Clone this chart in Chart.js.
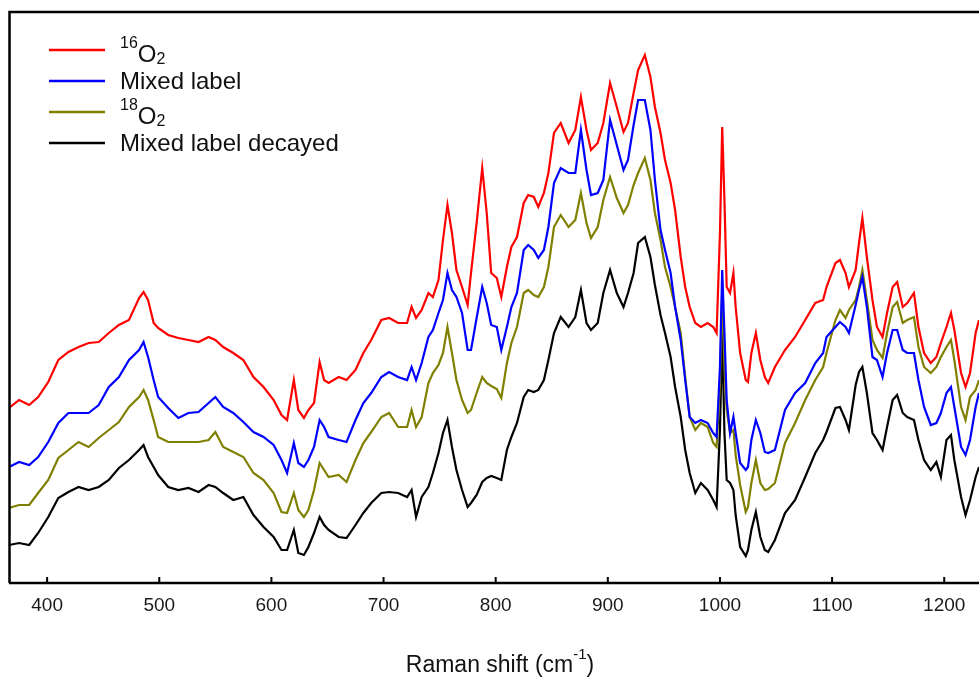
<!DOCTYPE html>
<html>
<head>
<meta charset="utf-8">
<script src="https://cdn.jsdelivr.net/npm/chart.js@4.4.1/dist/chart.umd.min.js"></script>
<style>
  html, body { margin: 0; padding: 0; background: #fff; }
</style>
</head>
<body>
<canvas id="ramanChart" width="979" height="680"></canvas>
<script>
// Raman shift (cm-1), shared by all four spectra
const wavenumbers = [366, 375, 384, 392, 401, 410, 419, 428, 437, 446,
    455, 464, 473, 482, 486, 490, 495, 499, 508, 517,
    526, 535, 544, 550, 557, 566, 575, 584, 593, 602,
    609, 614, 620, 624, 629, 633, 638, 643, 647, 651,
    660, 667, 675, 682, 689, 698, 705, 713, 721, 725,
    729, 734, 740, 744, 749, 753, 757, 761, 765, 770,
    775, 778, 783, 788, 792, 796, 801, 805, 810, 814,
    819, 825, 829, 834, 838, 843, 847, 852, 858, 865,
    871, 876, 881, 885, 891, 896, 902, 908, 914, 918,
    923, 927, 933, 938, 942, 947, 951, 956, 960, 965,
    969, 973, 978, 983, 989, 994, 997, 1000, 1002, 1004,
    1006, 1009, 1012, 1014, 1018, 1023, 1025, 1028, 1032, 1036,
    1040, 1043, 1049, 1058, 1067, 1076, 1085, 1092, 1095, 1103,
    1107, 1112, 1115, 1121, 1124, 1127, 1131, 1136, 1140, 1145,
    1149, 1154, 1158, 1163, 1167, 1173, 1177, 1182, 1188, 1193,
    1197, 1202, 1206, 1209, 1215, 1219, 1223, 1228, 1231];

// intensities (a.u., stacked with offsets as in the figure)
const o16 = [192, 200, 195, 203, 218, 240, 248, 253, 257, 258,
    267, 275, 280, 302, 308, 300, 277, 272, 265, 262,
    260, 258, 263, 260, 253, 247, 240, 223, 213, 200,
    185, 180, 220, 190, 182, 190, 197, 238, 220, 217,
    223, 220, 230, 247, 260, 280, 282, 277, 277, 293,
    282, 290, 307, 303, 320, 360, 395, 367, 330, 313,
    295, 327, 377, 432, 387, 327, 322, 303, 333, 353,
    363, 397, 405, 403, 393, 407, 427, 467, 477, 457,
    470, 503, 470, 450, 457, 477, 517, 493, 468, 477,
    507, 530, 545, 523, 493, 467, 440, 417, 390, 343,
    313, 293, 277, 273, 277, 273, 267, 367, 473, 400,
    313, 307, 327, 293, 247, 220, 218, 247, 267, 240,
    223, 217, 233, 250, 263, 280, 297, 300, 313, 337,
    340, 327, 313, 330, 357, 382, 343, 300, 273, 263,
    287, 313, 318, 293, 297, 307, 273, 247, 237, 243,
    257, 273, 287, 270, 227, 213, 227, 267, 280];

const mixed = [133, 138, 135, 143, 158, 177, 187, 187, 187, 195,
    213, 223, 240, 250, 258, 243, 220, 203, 192, 182,
    187, 188, 197, 203, 193, 187, 178, 168, 163, 155,
    140, 127, 157, 137, 133, 140, 153, 180, 173, 163,
    160, 158, 180, 197, 207, 223, 228, 223, 220, 233,
    220, 237, 263, 270, 287, 300, 327, 310, 303, 287,
    250, 250, 282, 313, 297, 275, 273, 250, 273, 293,
    307, 350, 355, 350, 342, 350, 373, 417, 432, 427,
    427, 470, 430, 405, 407, 420, 480, 455, 430, 440,
    475, 500, 500, 470, 420, 370, 350, 327, 293, 260,
    220, 183, 177, 180, 177, 167, 163, 233, 330, 267,
    200, 167, 183, 167, 137, 130, 133, 160, 180, 167,
    148, 147, 150, 190, 207, 217, 237, 247, 263, 273,
    278, 273, 267, 295, 310, 323, 293, 243, 240, 223,
    247, 270, 270, 250, 247, 247, 220, 193, 175, 177,
    187, 207, 213, 193, 153, 145, 160, 193, 207];

const o18 = [92, 95, 95, 107, 120, 142, 150, 158, 153, 162,
    170, 178, 193, 203, 210, 200, 180, 163, 158, 158,
    158, 158, 160, 168, 153, 148, 143, 127, 120, 107,
    88, 87, 107, 90, 83, 90, 110, 137, 130, 123,
    125, 118, 140, 157, 168, 183, 187, 173, 173, 190,
    173, 183, 217, 227, 235, 247, 273, 247, 220, 200,
    187, 190, 207, 223, 217, 214, 211, 202, 237, 257,
    273, 307, 310, 305, 303, 313, 333, 373, 385, 373,
    380, 407, 377, 362, 373, 400, 423, 402, 387, 395,
    415, 427, 442, 420, 387, 360, 333, 313, 293, 267,
    223, 183, 170, 177, 173, 157, 153, 217, 310, 233,
    190, 167, 170, 145, 115, 88, 93, 117, 140, 117,
    110, 111, 117, 157, 177, 200, 220, 233, 247, 280,
    290, 282, 290, 300, 313, 330, 300, 260, 250, 242,
    267, 293, 298, 277, 280, 283, 253, 233, 227, 233,
    243, 253, 260, 240, 193, 180, 203, 210, 220];

const mixedDecayed = [55, 57, 55, 67, 83, 102, 108, 113, 110, 113,
    120, 132, 140, 150, 155, 143, 133, 125, 113, 110,
    112, 108, 115, 113, 107, 100, 103, 85, 73, 63,
    50, 50, 70, 47, 45, 53, 67, 83, 75, 70,
    63, 62, 75, 87, 97, 107, 108, 107, 103, 110,
    83, 103, 113, 127, 147, 167, 180, 153, 130, 110,
    93, 97, 105, 118, 122, 124, 122, 120, 150, 163,
    177, 203, 210, 208, 210, 220, 240, 267, 283, 273,
    283, 310, 277, 270, 277, 307, 330, 307, 293, 307,
    327, 357, 363, 343, 315, 285, 267, 243, 213, 183,
    150, 127, 107, 117, 110, 100, 93, 170, 267, 167,
    120, 117, 110, 85, 53, 44, 50, 70, 88, 63,
    50, 48, 60, 87, 100, 123, 147, 160, 168, 192,
    193, 180, 170, 215, 228, 233, 207, 167, 160, 150,
    173, 200, 205, 187, 183, 180, 160, 140, 130, 138,
    123, 160, 165, 140, 103, 85, 100, 123, 133];

const xTicks = [400, 500, 600, 700, 800, 900, 1000, 1100, 1200];

// legend labels: [text, 'sup' | 'sub' | '']
const labelO16 = [['16', 'sup'], ['O', ''], ['2', 'sub']];
const labelMixed = [['Mixed label', '']];
const labelO18 = [['18', 'sup'], ['O', ''], ['2', 'sub']];
const labelDecayed = [['Mixed label decayed', '']];

const colors = ['#ff0000', '#0000ff', '#808000', '#000000'];
const labels = [labelO16, labelMixed, labelO18, labelDecayed];
const series = [o16, mixed, o18, mixedDecayed];

const FONT = "'Liberation Sans', Arial, Helvetica, sans-serif";
const AXIS_BOTTOM = 583;

function toPoints(values) {
    return values.map((v, i) => ({ x: wavenumbers[i], y: v }));
}

// draws text pieces with superscripts / subscripts, returns end x
function drawRich(ctx, parts, x, baseline, size) {
    const small = Math.round(size * 0.66);
    parts.forEach(([text, kind]) => {
        let y = baseline;
        if (kind === 'sup') { ctx.font = small + 'px ' + FONT; y = baseline - size * 0.58; }
        else if (kind === 'sub') { ctx.font = small + 'px ' + FONT; y = baseline + 2; }
        else ctx.font = size + 'px ' + FONT;
        ctx.fillText(text, x, y);
        x += ctx.measureText(text).width;
    });
    return x;
}

function richWidth(ctx, parts, size) {
    const small = Math.round(size * 0.66);
    let w = 0;
    parts.forEach(([text, kind]) => {
        ctx.font = (kind ? small : size) + 'px ' + FONT;
        w += ctx.measureText(text).width;
    });
    return w;
}

const framePlugin = {
    id: 'frame',
    afterDraw(chart) {
        const ctx = chart.ctx;
        const area = chart.chartArea;
        const xs = chart.scales.x;
        ctx.save();
        ctx.strokeStyle = '#000';
        ctx.lineWidth = 2.5;
        ctx.beginPath();
        ctx.moveTo(area.left + 0.5, area.bottom);
        ctx.lineTo(area.left + 0.5, area.top);
        ctx.lineTo(area.right, area.top);
        ctx.moveTo(area.left, area.bottom);
        ctx.lineTo(area.right, area.bottom);
        ctx.stroke();
        // inward ticks
        ctx.lineWidth = 2;
        ctx.beginPath();
        xTicks.forEach(v => {
            const px = xs.getPixelForValue(v);
            ctx.moveTo(px, area.bottom);
            ctx.lineTo(px, area.bottom - 6);
        });
        ctx.stroke();

        // axis title with superscript
        ctx.fillStyle = '#111';
        ctx.textBaseline = 'alphabetic';
        const title = [['Raman shift (cm', ''], ['-1', 'sup'], [')', '']];
        const tw = richWidth(ctx, title, 23);
        drawRich(ctx, title, 500 - tw / 2, 672, 23);

        // legend
        labels.forEach((parts, i) => {
            const ly = 50 + i * 31;
            ctx.strokeStyle = colors[i];
            ctx.lineWidth = 2.5;
            ctx.beginPath();
            ctx.moveTo(49, ly);
            ctx.lineTo(105, ly);
            ctx.stroke();
            ctx.fillStyle = '#111';
            const scripted = parts.some(p => p[1]);
            drawRich(ctx, parts, 120, ly + (scripted ? 12 : 8), 24);
        });
        ctx.restore();
    }
};

const ctx = document.getElementById('ramanChart').getContext('2d');
const ramanChart = new Chart(ctx, {
    type: 'line',
    data: {
        datasets: series.map((values, i) => ({
            label: labels[i].map(p => p[0]).join(''),
            data: toPoints(values),
            borderColor: colors[i],
            borderWidth: 2.2,
            pointRadius: 0,
            tension: 0,
            fill: false
        }))
    },
    options: {
        responsive: false,
        animation: false,
        devicePixelRatio: 1,
        layout: { padding: { left: 9, top: 12, right: 0, bottom: 0 } },
        plugins: {
            legend: { display: false },
            tooltip: { enabled: false }
        },
        scales: {
            x: {
                type: 'linear',
                min: 366,
                max: 1231,
                grid: { display: false, drawTicks: false },
                border: { display: false },
                afterBuildTicks: axis => { axis.ticks = xTicks.map(v => ({ value: v })); },
                afterFit: axis => { axis.height = 680 - AXIS_BOTTOM; },
                ticks: {
                    padding: 11,
                    maxRotation: 0,
                    color: '#1a1a1a',
                    font: { family: FONT, size: 19 },
                    callback: v => String(v)
                }
            },
            y: {
                display: false,
                min: 600 - AXIS_BOTTOM,
                max: 588
            }
        }
    },
    plugins: [framePlugin]
});
</script>
</body>
</html>
